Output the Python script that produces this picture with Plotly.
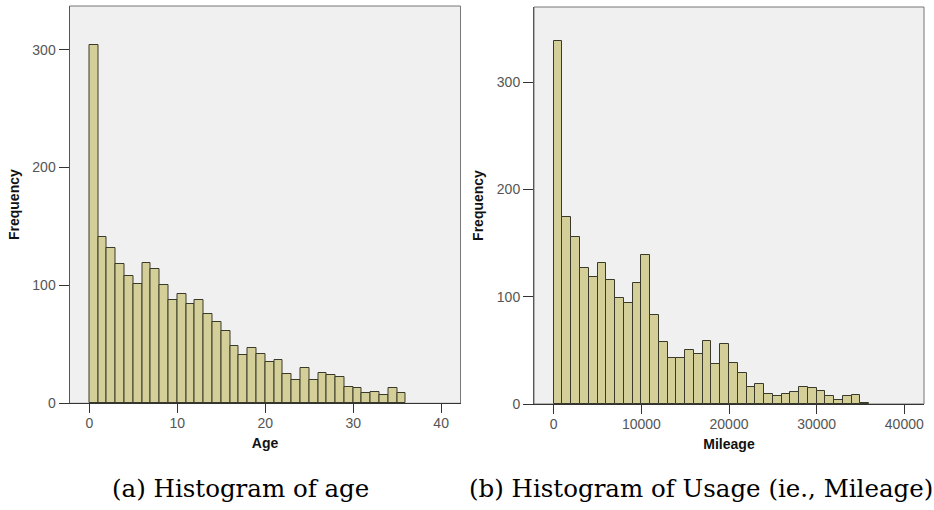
import numpy as np
import plotly.graph_objects as go

# ---- data ----
age_bin_start = 0
age_bin_width = 1
age_counts = [304, 141, 132, 118, 108, 101, 119, 114, 100, 88, 93, 84, 88, 76, 69, 61,
              49, 41, 47, 42, 35, 37, 25, 20, 30, 20, 26, 24, 22, 14, 13, 9, 10, 7, 13, 9]

mileage_bin_start = 0
mileage_bin_width = 1000
mileage_counts = [338, 174, 156, 127, 118, 131, 116, 99, 94, 113, 139, 83, 58, 43, 43, 50,
                  47, 59, 37, 56, 38, 29, 16, 19, 9, 7, 9, 11, 16, 15, 12, 7, 4, 7, 8, 1]

age_ticks = [0, 10, 20, 30, 40]
mileage_ticks = [0, 10000, 20000, 30000, 40000]
freq_ticks = [0, 100, 200, 300]

captions = ["(a) Histogram of age", "(b) Histogram of Usage (ie., Mileage)"]

age_x = age_bin_start + age_bin_width * (np.arange(len(age_counts)) + 0.5)
mil_x = mileage_bin_start + mileage_bin_width * (np.arange(len(mileage_counts)) + 0.5)

W, H = 934, 510
FILL = "#d4cf98"
EDGE = "#3a3a2a"
PANEL = "#f0f0f0"

fig = go.Figure()
fig.add_trace(go.Bar(x=age_x, y=age_counts, width=age_bin_width, xaxis="x", yaxis="y",
                     marker=dict(color=FILL, line=dict(color=EDGE, width=1)), showlegend=False))
fig.add_trace(go.Bar(x=mil_x, y=mileage_counts, width=mileage_bin_width, xaxis="x2", yaxis="y2",
                     marker=dict(color=FILL, line=dict(color=EDGE, width=1)), showlegend=False))

tickfont = dict(family="Liberation Sans, Arial, sans-serif", size=14, color="#555555")
titlefont = dict(family="Liberation Sans, Arial, sans-serif", size=14, color="#111111")

def xax(dom, rng, ticks, title, anchor):
    return dict(domain=dom, range=rng, tickvals=ticks, ticktext=[str(t) for t in ticks],
                ticks="outside", ticklen=9, automargin=False, ticklabelstandoff=-2,
                tickcolor="#333", tickwidth=1, showline=True, linecolor="#333", linewidth=1,
                mirror=False, showgrid=False, zeroline=False, tickfont=tickfont,
                title=dict(text="<b>%s</b>" % title, font=titlefont, standoff=8), anchor=anchor)

def yax(dom, rng, title, anchor):
    return dict(domain=dom, range=rng, tickvals=freq_ticks, ticks="outside", ticklen=10,
                automargin=False,
                tickcolor="#333", tickwidth=1, showline=True, linecolor="#555", linewidth=1,
                mirror=False, showgrid=False, zeroline=False, tickfont=tickfont,
                title=dict(text="<b>%s</b>" % title, font=titlefont, standoff=9), anchor=anchor)

lx = [69.5 / W, 460.5 / W]
rx = [534 / W, 924 / W]
ly = [1 - 403.3 / H, 1 - 6 / H]
ry = [1 - 404 / H, 1 - 7 / H]

fig.update_layout(
    width=W, height=H, margin=dict(l=0, r=0, t=0, b=0, autoexpand=False),
    paper_bgcolor="white", plot_bgcolor="white", bargap=0,
    xaxis=xax(lx, [-2.25, 42.2], age_ticks, "Age", "y"),
    yaxis=yax(ly, [0, 337], "Frequency", "x"),
    xaxis2=xax(rx, [-2250, 42250], mileage_ticks, "Mileage", "y2"),
    yaxis2=yax(ry, [0, 370], "Frequency", "x2"),
)

# panel backgrounds and borders
for xd, yd in [(lx, ly), (rx, ry)]:
    fig.add_shape(type="rect", xref="paper", yref="paper", x0=xd[0], x1=xd[1], y0=yd[0], y1=yd[1],
                  fillcolor=PANEL, line=dict(color="#777777", width=1), layer="below")

capfont = dict(family="DejaVu Serif, serif", size=24.5, color="#000")
fig.add_annotation(text=captions[0], xref="paper", yref="paper", x=240.5 / W, y=1 - 488 / H,
                   showarrow=False, xanchor="center", yanchor="middle", font=capfont)
fig.add_annotation(text=captions[1], xref="paper", yref="paper", x=701 / W, y=1 - 488 / H,
                   showarrow=False, xanchor="center", yanchor="middle", font=capfont)

fig.write_html("out.html")
